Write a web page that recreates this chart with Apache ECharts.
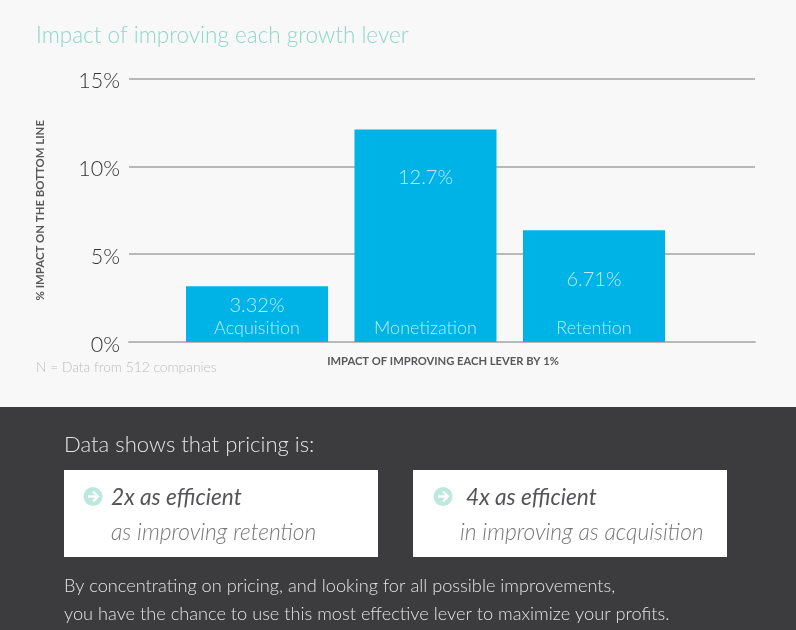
<!DOCTYPE html>
<html><head><meta charset="utf-8">
<style>html,body{margin:0;padding:0;background:#f8f8f9}#c{width:796px;height:630px}</style>
<script src="https://cdn.jsdelivr.net/npm/echarts@6/dist/echarts.min.js"></script>
</head><body><div id="c"></div>
<script>
const categories = ['Acquisition', 'Monetization', 'Retention'];
const barValues = [3.18, 12.1, 6.36];
const valueLabels = ['3.32%', '12.7%', '6.71%'];
const yTicks = [0, 5, 10, 15];
const titleText = 'Impact of improving each growth lever';
const yName = '% IMPACT ON THE BOTTOM LINE';
const xName = 'IMPACT OF IMPROVING EACH LEVER BY 1%';
const noteText = 'N = Data from 512 companies';
const headline = 'Data shows that pricing is:';
const footerLines = ['By concentrating on pricing, and looking for all possible improvements,',
  'you have the chance to use this most effective lever to maximize your profits.'];
const card1 = ['2x as efficient', 'as improving retention'];
const card2 = ['4x as efficient', 'in improving as acquisition'];

const F = 'Lato, "Open Sans", sans-serif';
const labelDistances = [9, 38, 39];
const chart = echarts.init(document.getElementById('c'), null, {renderer: 'canvas'});

function txt(x, y, text, size, fill, extra) {
  return {type: 'text', x, y, z: 10, style: Object.assign({text, fontFamily: F, fontSize: size, fontWeight: 300, fill, verticalAlign: 'middle', align: 'left'}, extra || {})};
}
function card(x, icx, headX, subX, lines) {
  return [
    {type: 'rect', z: 5, shape: {x, y: 470, width: 314, height: 87}, style: {fill: '#fff'}},
    {type: 'circle', z: 6, shape: {cx: icx, cy: 496.5, r: 9.5}, style: {fill: '#bde8dd'}},
    {type: 'polyline', z: 7, shape: {points: [[icx - 5, 496.5], [icx + 4, 496.5]]}, style: {stroke: '#fff', lineWidth: 2.4, fill: null}},
    {type: 'polyline', z: 7, shape: {points: [[icx, 491.5], [icx + 5, 496.5], [icx, 501.5]]}, style: {stroke: '#fff', lineWidth: 2.4, fill: null}},
    txt(headX, 497.5, lines[0], 22.7, '#555558', {fontStyle: 'italic', fontWeight: 400}),
    txt(subX, 532.5, lines[1], 22.8, '#77777a', {fontStyle: 'italic'})
  ];
}

chart.setOption({
  animation: false,
  backgroundColor: '#f8f8f9',
  title: {text: titleText, left: 31, top: 19, textStyle: {fontFamily: F, fontSize: 22.5, fontWeight: 300, color: '#8ed8c6'}},
  grid: [
    {left: 129, top: 78.5, width: 626, height: 263.5},
    {left: 172.75, top: 78.5, width: 505.5, height: 263.5}
  ],
  xAxis: [
    {type: 'category', gridIndex: 0, data: categories, axisTick: {show: false}, axisLabel: {show: false},
     axisLine: {show: true, lineStyle: {color: '#b8b8b8', width: 2}},
     name: xName, nameLocation: 'middle', nameGap: 14,
     nameTextStyle: {fontFamily: F, fontSize: 11.2, fontWeight: 700, color: '#58585a', padding: [0, 0, 0, 2]}},
    {type: 'category', gridIndex: 1, data: categories, z: 6, axisTick: {show: false}, axisLine: {show: false},
     axisLabel: {inside: true, margin: 5, interval: 0, fontFamily: F, fontSize: 18, fontWeight: 300, color: '#b5ecfb', verticalAlign: 'bottom'}}
  ],
  yAxis: [
    {type: 'value', gridIndex: 0, min: 0, max: 15, interval: 5, axisLine: {show: false}, axisTick: {show: false},
     splitLine: {show: true, lineStyle: {color: '#b8b8b8', width: 2}},
     axisLabel: {margin: 9, verticalAlign: 'top', lineHeight: 6, formatter: v => yTicks.includes(v) ? v + '%' : '', fontFamily: F, fontSize: 21.5, fontWeight: 300, color: '#333'},
     name: yName, nameLocation: 'middle', nameRotate: 90, nameGap: 83,
     nameTextStyle: {fontFamily: F, fontSize: 11.4, fontWeight: 700, color: '#58585a'}},
    {type: 'value', gridIndex: 1, min: 0, max: 15, interval: 5, show: false}
  ],
  series: [{
    type: 'bar', xAxisIndex: 1, yAxisIndex: 1, barWidth: 142,
    itemStyle: {color: '#00b3e6'},
    data: barValues.map((v, i) => ({
      value: v,
      label: {show: true, position: 'insideTop', distance: labelDistances[i], formatter: valueLabels[i],
        fontFamily: F, fontSize: 20, fontWeight: 300, color: '#b5ecfb'}
    }))
  }],
  graphic: {elements: [
    txt(36, 367.5, noteText, 13.8, '#bdbdbd'),
    {type: 'rect', z: 1, shape: {x: 0, y: 407, width: 796, height: 223}, style: {fill: '#3c3c3e'}},
    txt(64, 445, headline, 22.1, '#e3e3e3'),
    ...card(64, 93, 111, 111, card1),
    ...card(413, 443, 466, 460, card2),
    txt(64, 586, footerLines[0], 18.2, '#e3e3e3'),
    txt(64, 614, footerLines[1], 18.2, '#e3e3e3')
  ]}
});
</script></body></html>
